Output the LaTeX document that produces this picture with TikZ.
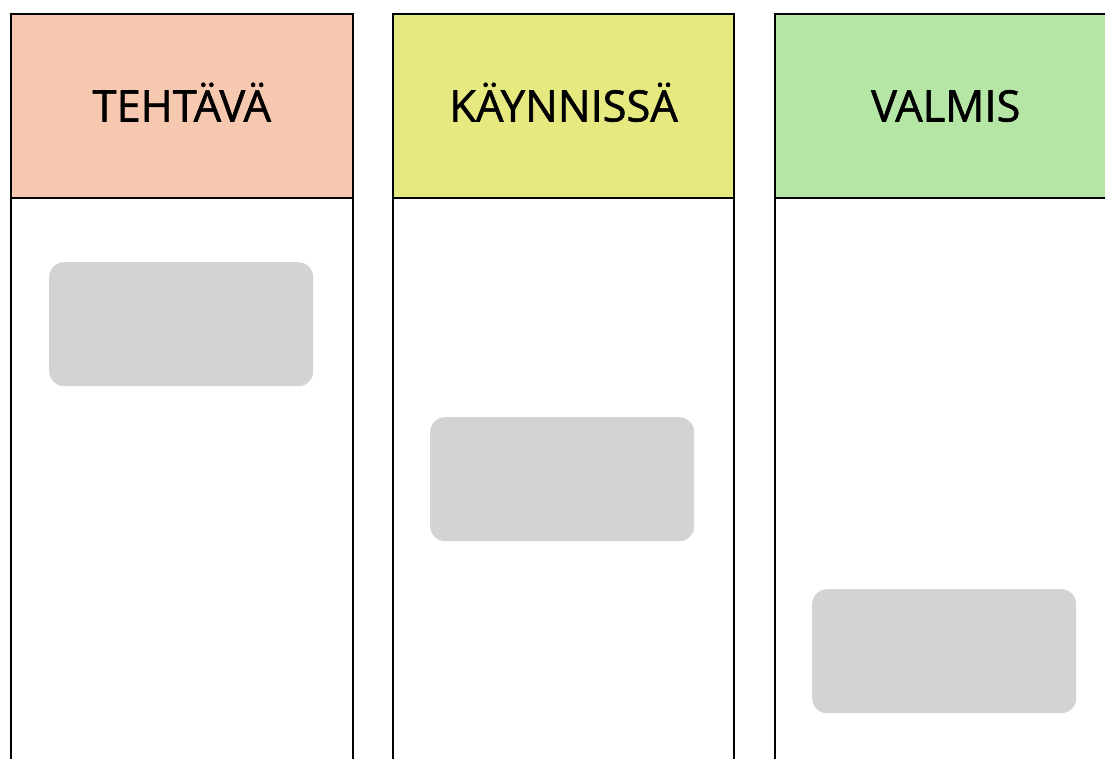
\documentclass[tikz,border=0pt]{standalone}
\usepackage{fontspec}
\setmainfont{Open Sans}
\newfontfamily\headfont{Open Sans}[FakeBold=1.3]
\definecolor{todocol}{RGB}{246,200,175}
\definecolor{doingcol}{RGB}{230,233,128}
\definecolor{donecol}{RGB}{181,230,165}
\definecolor{cardgray}{RGB}{211,211,211}
\begin{document}
\begin{tikzpicture}[x=1pt,y=-1pt,
  header/.style={draw=black,line width=2pt,minimum width=341.5pt,minimum height=184.6pt,inner sep=0pt,anchor=north west,font=\headfont\fontsize{43.4}{52}\selectfont,text height=31pt,text depth=0pt},
  colbody/.style={draw=black,line width=2pt,minimum width=341.5pt,minimum height=600pt,inner sep=0pt,anchor=north west,fill=white},
  card/.style={fill=cardgray,rounded corners=15pt,minimum width=264pt,minimum height=124pt,inner sep=0pt,anchor=north west}]
\useasboundingbox (0,0) rectangle (1105,758);
\clip (0,0) rectangle (1105,758);
\fill[white] (0,0) rectangle (1105,758);
% column bodies
\node[colbody] (b1) at (10,197.3) {};
\node[colbody] (b2) at (391.8,197.3) {};
\node[colbody] (b3) at (774,197.3) {};
% headers
\node[header,fill=todocol] (h1) at (10,12.7) {TEHTÄVÄ};
\node[header,fill=doingcol] (h2) at (391.8,12.7) {KÄYNNISSÄ};
\node[header,fill=donecol] (h3) at (774,12.7) {VALMIS};
% cards
\node[card] (c1) at (49,262) {};
\node[card] (c2) at (430,417) {};
\node[card] (c3) at (812,589) {};
\end{tikzpicture}
\end{document}
